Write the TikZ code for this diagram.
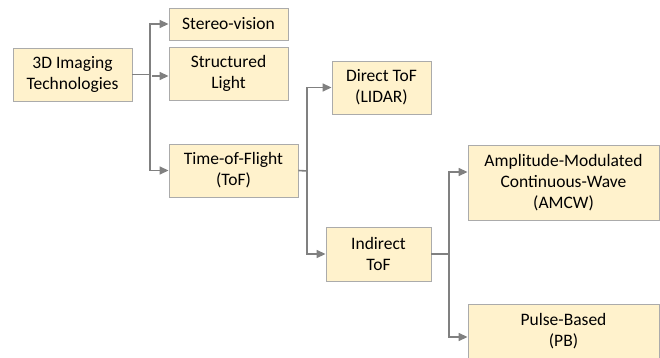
\documentclass[tikz,border=0pt]{standalone}
\usepackage{fontspec}
\setmainfont{Carlito}
\usetikzlibrary{arrows.meta,calc}
\definecolor{boxfill}{HTML}{FFF2CC}
\definecolor{boxline}{HTML}{ABABAB}
\definecolor{linkgray}{HTML}{808080}
\tikzset{
  techbox/.style={draw=boxline, fill=boxfill, line width=0.9pt, align=center,
    inner sep=0pt, font=\fontsize{17.5}{21}\selectfont},
  conn/.style={draw=linkgray, line width=1.6pt,
    -{Triangle[length=9pt,width=8pt]}},
  plain/.style={draw=linkgray, line width=1.6pt}
}
\begin{document}
\begin{tikzpicture}[x=1pt,y=-1pt]
\useasboundingbox (0,0) rectangle (660,358);

% boxes
\node[techbox, minimum width=119pt, minimum height=53pt] (root) at (72.5,74.5) {3D Imaging\\Technologies};
\node[techbox, minimum width=119pt, minimum height=32pt] (stereo) at (228.5,24) {Stereo-vision};
\node[techbox, minimum width=119pt, minimum height=53pt] (struct) at (228.5,73.5) {Structured\\Light};
\node[techbox, minimum width=129pt, minimum height=53pt] (tof) at (233.5,170.5) {Time-of-Flight\\(ToF)};
\node[techbox, minimum width=99pt, minimum height=53pt] (direct) at (381.5,87.5) {Direct ToF\\(LIDAR)};
\node[techbox, minimum width=105pt, minimum height=54pt] (indirect) at (378.5,254) {Indirect\\ToF};
\node[techbox, minimum width=191pt, minimum height=75pt] (amcw) at (563.5,182.5) {Amplitude-Modulated\\Continuous-Wave\\(AMCW)};
\node[techbox, minimum width=191pt, minimum height=54pt] (pb) at (563.5,331) {Pulse-Based\\(PB)};

% branch points
\coordinate (t1) at (150,74.5);
\coordinate (t2) at (307,171);
\coordinate (t3) at (449,254);

% first level
\draw[plain] (root.east) -- (t1);
\draw[conn] (t1) |- (stereo.west);
\draw[conn] ($(t1)+(2,1.5)$) -- ($(struct.west)+(0,2.5)$);
\draw[conn] (t1) |- (tof.west);

% time-of-flight branch
\draw[plain] (tof.east) -- (t2);
\draw[conn] (t2) |- (direct.west);
\draw[conn] (t2) |- (indirect.west);

% indirect branch
\draw[plain] (indirect.east) -- (t3);
\draw[conn] (t3) |- ($(amcw.west)+(0,-10.5)$);
\draw[conn] (t3) |- ($(pb.west)+(0,6)$);
\end{tikzpicture}
\end{document}
